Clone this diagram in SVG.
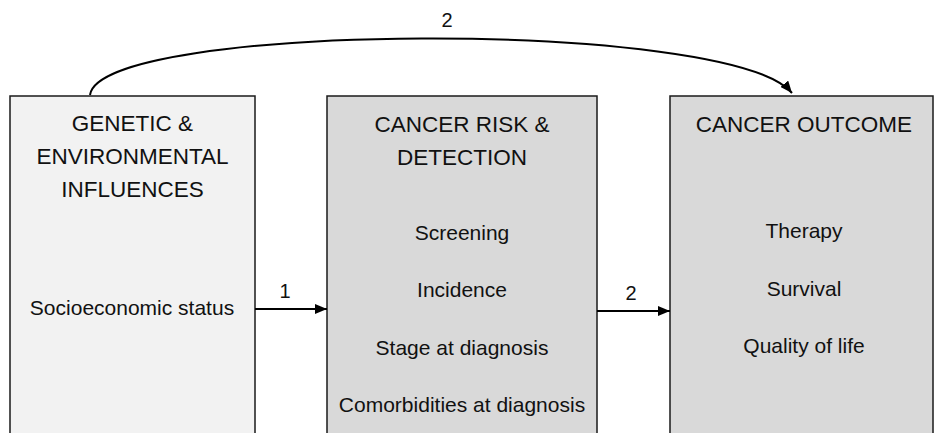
<svg xmlns="http://www.w3.org/2000/svg" width="935" height="433" viewBox="0 0 935 433">
<style>
  .box{stroke:#1a1a1a;stroke-width:1.5}
  .light{fill:#f2f2f2}
  .dark{fill:#d9d9d9}
  text{font-family:"Liberation Sans",Arial,sans-serif;fill:#111;text-anchor:middle}
  .title{font-size:22.5px}
  .item{font-size:21px}
  .lbl{font-size:20px}
  .conn{fill:none;stroke:#000;stroke-width:2}
</style>
<defs>
  <marker id="arr" viewBox="0 0 12 10" refX="12" refY="5" markerWidth="12" markerHeight="10" markerUnits="userSpaceOnUse" orient="auto">
    <path d="M0,0 L12,5 L0,10 Z" fill="#000"/>
  </marker>
</defs>
<g id="node-genetic">
  <rect class="box light" x="10" y="96" width="245" height="345"/>
  <text class="title" x="132.5" y="131">GENETIC &amp;</text>
  <text class="title" x="132.5" y="164">ENVIRONMENTAL</text>
  <text class="title" x="132.5" y="197">INFLUENCES</text>
  <text class="item" x="132" y="315">Socioeconomic status</text>
</g>
<g id="node-risk">
  <rect class="box dark" x="327" y="96" width="270" height="345"/>
  <text class="title" x="462" y="132">CANCER RISK &amp;</text>
  <text class="title" x="462" y="165">DETECTION</text>
  <text class="item" x="462" y="240">Screening</text>
  <text class="item" x="462" y="297">Incidence</text>
  <text class="item" x="462" y="355">Stage at diagnosis</text>
  <text class="item" x="462" y="412">Comorbidities at diagnosis</text>
</g>
<g id="node-outcome">
  <rect class="box dark" x="670" y="96" width="263" height="345"/>
  <text class="title" x="804" y="132">CANCER OUTCOME</text>
  <text class="item" x="804" y="238">Therapy</text>
  <text class="item" x="804" y="296">Survival</text>
  <text class="item" x="804" y="353">Quality of life</text>
</g>
<g id="connectors">
  <path class="conn" d="M255,309 L327,309" marker-end="url(#arr)"/>
  <text class="lbl" x="285" y="298">1</text>
  <path class="conn" d="M597,311 L670,311" marker-end="url(#arr)"/>
  <text class="lbl" x="631" y="300">2</text>
  <path class="conn" d="M90,95 C100,22 730,18 792,93" marker-end="url(#arr)"/>
  <text class="lbl" x="447" y="27">2</text>
</g>
</svg>
